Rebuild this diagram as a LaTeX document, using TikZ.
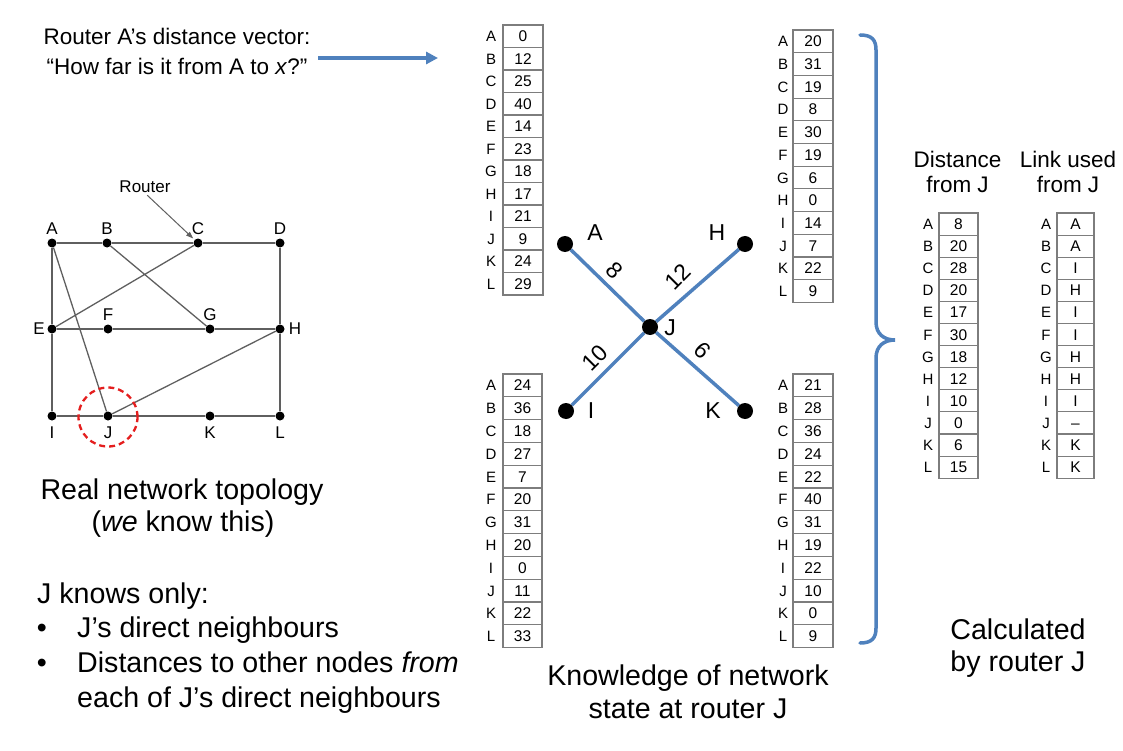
\documentclass[tikz,border=0pt]{standalone}
\usepackage{fontspec}
\setmainfont{Liberation Sans}
\usetikzlibrary{arrows.meta}
\definecolor{lineblue}{RGB}{79,129,189}
\definecolor{netgray}{RGB}{95,95,95}
\definecolor{cellgray}{RGB}{125,125,125}
\definecolor{dashred}{RGB}{228,30,30}
\newcommand\dvtab[7]{%
  \foreach \lt/\vl [count=\i] in {#7} {%
    \node[cell, minimum width=#4pt, minimum height=#6pt] (#1-\i) at (#3,{#5+(\i-0.5)*#6}) {\vl};
    \node[rowlab] (#1-l\i) at (#2,{#5+(\i-0.5)*#6}) {\lt};
  }}
\tikzset{
  big/.style={font=\fontsize{28.6}{34}\selectfont, inner sep=0pt},
  mid/.style={font=\fontsize{22.5}{27}\selectfont, inner sep=0pt},
  cell/.style={draw=cellgray, line width=1.1pt, inner sep=0pt, font=\fontsize{15.5}{18}\selectfont, text height=11pt, text depth=0pt},
  rowlab/.style={inner sep=0pt, font=\fontsize{15}{18}\selectfont, text height=11pt, text depth=0pt},
  gdot/.style={circle, fill=black, inner sep=0pt, minimum size=9pt},
  glab/.style={inner sep=0pt, font=\fontsize{17}{20}\selectfont},
  netline/.style={draw=netgray, line width=1.3pt},
  bdot/.style={circle, fill=black, inner sep=0pt, minimum size=16pt},
  xline/.style={draw=lineblue, line width=3.5pt},
  xlab/.style={inner sep=0pt, font=\fontsize{23}{27}\selectfont},
  bluearrow/.style={draw=lineblue, line width=3.5pt, -{Triangle[length=12pt,width=12pt]}},
  bracepath/.style={draw=lineblue, line width=3.5pt, line cap=round}
}
\begin{document}
\begin{tikzpicture}[x=1pt,y=-1pt]
\useasboundingbox (0,0) rectangle (1123,751);

% ---- top-left explanation and arrow
\node[mid, anchor=base] (rav1) at (177,45) {Router A’s distance vector:};
\node[mid, anchor=base] (rav2) at (177,75) {“How far is it from A to \textit{x}?”};
\coordinate (avs) at (318,58);
\coordinate (ave) at (438,58);
\draw[bluearrow] (avs) -- (ave);

% ---- topology graph
\foreach \n/\x/\y in {A/52/243,B/107/243,C/198/243,D/280/243,E/52/329,F/108/329,G/210/329,H/280/329,I/52/416,J/108/416,K/210/416,L/280/416}
  \node[gdot] (g\n) at (\x,\y) {};
\draw[netline] (gA) -- (gB) (gB) -- (gC) (gC) -- (gD);
\draw[netline] (gD) -- (gH) (gH) -- (gL);
\draw[netline] (gA) -- (gE) (gE) -- (gI);
\draw[netline] (gE) -- (gF) (gF) -- (gG) (gG) -- (gH);
\draw[netline] (gI) -- (gJ) (gJ) -- (gK) (gK) -- (gL);
\draw[netline] (gA) -- (gJ) (gB) -- (gG) (gC) -- (gE) (gJ) -- (gH);
\foreach \n/\x/\y in {A/52/229,B/107/229,C/198/229,D/280/229,E/39/329,F/108/315,G/210/315,H/295/329,I/52/433,J/108/433,K/210/433,L/280/433}
  \node[glab] (gl\n) at (\x,\y) {\n};
\node[glab] (router) at (145,187) {Router};
\draw[netline, line width=1pt, -{Triangle[length=7pt,width=5pt]}, shorten <=3pt, shorten >=2pt] (router.south) -- (gC);
\node[circle, draw=dashred, dashed, dash pattern=on 6pt off 4pt, line width=2.3pt, minimum size=59pt, inner sep=0pt] (jcirc) at (108,417) {};

\node[big, anchor=base] (rt1) at (182,499) {Real network topology};
\node[big, anchor=base] (rt2) at (183,531) {(\textit{we} know this)};

\node[big, anchor=base west] (kn0) at (37,603) {J knows only:};
\node[big, anchor=base] (b1) at (42,637) {•};
\node[big, anchor=base west] (kn1) at (77,637) {J’s direct neighbours};
\node[big, anchor=base] (b2) at (42,672) {•};
\node[big, anchor=base west] (kn2) at (77,672) {Distances to other nodes \textit{from}};
\node[big, anchor=base west] (kn3) at (77,707) {each of J’s direct neighbours};

% ---- neighbour tables
\dvtab{tA}{491}{523}{40}{25}{22.5}{A/0,B/12,C/25,D/40,E/14,F/23,G/18,H/17,I/21,J/9,K/24,L/29}
\dvtab{tH}{783}{813}{40}{30}{22.7}{A/20,B/31,C/19,D/8,E/30,F/19,G/6,H/0,I/14,J/7,K/22,L/9}
\dvtab{tI}{491}{522.5}{39}{374}{22.8}{A/24,B/36,C/18,D/27,E/7,F/20,G/31,H/20,I/0,J/11,K/22,L/33}
\dvtab{tK}{783}{813}{40}{374}{22.8}{A/21,B/28,C/36,D/24,E/22,F/40,G/31,H/19,I/22,J/10,K/0,L/9}

% ---- centre star
\node[bdot] (cA) at (565,244) {};
\node[bdot] (cH) at (745,244) {};
\node[bdot] (cJ) at (650,327) {};
\node[bdot] (cI) at (566,411) {};
\node[bdot] (cK) at (745,411) {};
\draw[xline] (cA) -- (cJ);
\draw[xline] (cH) -- (cJ);
\draw[xline] (cI) -- (cJ);
\draw[xline] (cK) -- (cJ);
\node[xlab] (xA) at (595,233) {A};
\node[xlab] (xH) at (717,233) {H};
\node[xlab] (xJ) at (670,328) {J};
\node[xlab] (xI) at (591,411) {I};
\node[xlab] (xK) at (713,411) {K};
\node[xlab, rotate=-45] (w8) at (615,270) {8};
\node[xlab, rotate=45] (w12) at (678,277) {12};
\node[xlab, rotate=45] (w10) at (595,358) {10};
\node[xlab, rotate=-45] (w6) at (703,350) {6};

\node[big, anchor=base] (kw1) at (688,685) {Knowledge of network};
\node[big, anchor=base] (kw2) at (688,718) {state at router J};

% ---- brace
\draw[bracepath] (860,35) .. controls (872,35) and (876,40) .. (876,50) -- (876,322)
  .. controls (876,334) and (884,340) .. (895,340)
  .. controls (884,340) and (876,346) .. (876,358) -- (876,628)
  .. controls (876,638) and (872,643) .. (860,643);

% ---- calculated tables
\node[mid, anchor=base] (hd1) at (957.5,168) {Distance};
\node[mid, anchor=base] (hd2) at (957.5,193) {from J};
\node[mid, anchor=base] (hl1) at (1068,168) {Link used};
\node[mid, anchor=base] (hl2) at (1068,193) {from J};
\dvtab{tD}{928}{958.5}{39}{213}{22.1}{A/8,B/20,C/28,D/20,E/17,F/30,G/18,H/12,I/10,J/0,K/6,L/15}
\dvtab{tL}{1046}{1075.5}{37}{213}{22.1}{A/A,B/A,C/I,D/H,E/I,F/I,G/H,H/H,I/I,J/--,K/K,L/K}

\node[big, anchor=base] (cc1) at (1018,639) {Calculated};
\node[big, anchor=base] (cc2) at (1018,671) {by router J};
\end{tikzpicture}
\end{document}
